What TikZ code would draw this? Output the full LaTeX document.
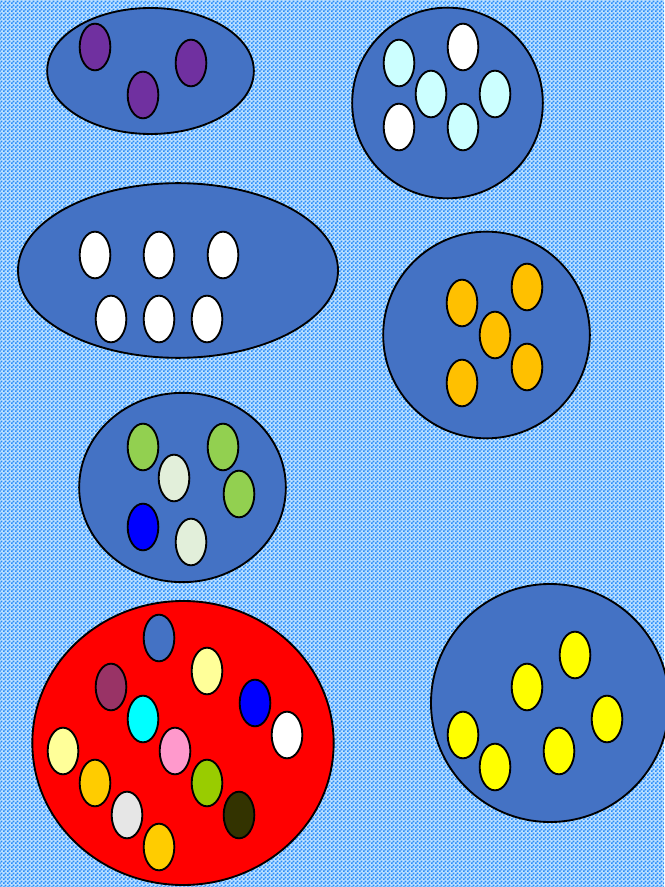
\documentclass[tikz,border=0pt]{standalone}
\usetikzlibrary{shapes.geometric,patterns.meta}
\definecolor{bgblue}{RGB}{40,140,250}
\definecolor{bgpale}{RGB}{190,225,255}
\definecolor{setblue}{RGB}{68,114,196}
\definecolor{setred}{RGB}{255,0,0}
\definecolor{grape}{HTML}{7030A0}
\definecolor{icecyan}{HTML}{CCFFFF}
\definecolor{amber}{HTML}{FFC000}
\definecolor{gold}{HTML}{FFCC00}
\definecolor{leaf}{HTML}{92D050}
\definecolor{mint}{HTML}{E2EFDA}
\definecolor{pureblue}{HTML}{0000FF}
\definecolor{lemon}{HTML}{FFFF00}
\definecolor{cream}{HTML}{FFFF99}
\definecolor{plum}{HTML}{993366}
\definecolor{aqua}{HTML}{00FFFF}
\definecolor{rose}{HTML}{FF99CC}
\definecolor{lime}{HTML}{99CC00}
\definecolor{silver}{HTML}{E6E6E6}
\definecolor{olive}{HTML}{333300}
\tikzdeclarepattern{
  name=checks, type=uncolored,
  bounding box={(0,0) and (3pt,3pt)},
  tile size={(3pt,3pt)},
  code={
    \pgfpathrectangle{\pgfpointorigin}{\pgfpoint{1.6pt}{1.6pt}}
    \pgfpathrectangle{\pgfpoint{1.5pt}{1.5pt}}{\pgfpoint{1.6pt}{1.6pt}}
    \pgfusepath{fill}
  }
}

\begin{document}
\begin{tikzpicture}[
  x=0.75pt, y=-0.75pt,
  set/.style={draw, ellipse, line width=1.4pt, inner sep=0pt, fill=setblue},
  egg/.style={draw, ellipse, line width=1.4pt, inner sep=0pt, minimum width=23pt, minimum height=35pt}
]
% background
\useasboundingbox (0,0) rectangle (664,887);
\fill[bgpale] (0,0) rectangle (664,887);
\fill[pattern=checks, pattern color=bgblue] (0,0) rectangle (664,887);

% sets
\node[set, minimum width=155pt, minimum height=94.5pt] (s1) at (150.5,71) {};
\node[set, minimum width=143pt, minimum height=143pt] (s2) at (447.5,103) {};
\node[set, minimum width=240pt, minimum height=131pt] (s3) at (178,270.5) {};
\node[set, minimum width=155pt, minimum height=155pt] (s4) at (486.5,335) {};
\node[set, minimum width=155pt, minimum height=142pt] (s5) at (182.5,487.5) {};
\node[set, fill=setred, minimum width=226pt, minimum height=213pt] (s6) at (183,743) {};
\node[set, minimum width=178.5pt, minimum height=178.5pt] (s7) at (550,703) {};

% purple set
\node[egg, fill=grape] (a1) at (95,47) {};
\node[egg, fill=grape] (a2) at (191,63) {};
\node[egg, fill=grape] (a3) at (143,95) {};

% white and cyan set
\node[egg, fill=white] (b1) at (463,47) {};
\node[egg, fill=icecyan] (b2) at (399,63) {};
\node[egg, fill=icecyan] (b3) at (431,94) {};
\node[egg, fill=icecyan] (b4) at (495,94) {};
\node[egg, fill=white] (b5) at (399,127) {};
\node[egg, fill=icecyan] (b6) at (463,127) {};

% white set
\node[egg, fill=white] (c1) at (95,255) {};
\node[egg, fill=white] (c2) at (159,255) {};
\node[egg, fill=white] (c3) at (223,255) {};
\node[egg, fill=white] (c4) at (111,319) {};
\node[egg, fill=white] (c5) at (159,319) {};
\node[egg, fill=white] (c6) at (207,319) {};

% orange set
\node[egg, fill=amber] (d1) at (527,287) {};
\node[egg, fill=amber] (d2) at (462,303) {};
\node[egg, fill=amber] (d3) at (495,335) {};
\node[egg, fill=amber] (d4) at (527,367) {};
\node[egg, fill=amber] (d5) at (462,383) {};

% green set
\node[egg, fill=leaf] (e1) at (143,447) {};
\node[egg, fill=leaf] (e2) at (223,447) {};
\node[egg, fill=mint] (e3) at (174,478) {};
\node[egg, fill=leaf] (e4) at (239,494) {};
\node[egg, fill=pureblue] (e5) at (143,527) {};
\node[egg, fill=mint] (e6) at (191,542) {};

% red set
\node[egg, fill=setblue] (f1) at (159,638) {};
\node[egg, fill=cream] (f2) at (207,671) {};
\node[egg, fill=plum] (f3) at (111,687) {};
\node[egg, fill=pureblue] (f4) at (255,703) {};
\node[egg, fill=aqua] (f5) at (143,719) {};
\node[egg, fill=white] (f6) at (287,735) {};
\node[egg, fill=cream] (f7) at (63,751) {};
\node[egg, fill=rose] (f8) at (175,751) {};
\node[egg, fill=gold] (f9) at (95,783) {};
\node[egg, fill=lime] (f10) at (207,783) {};
\node[egg, fill=silver] (f11) at (127,815) {};
\node[egg, fill=olive] (f12) at (239,815) {};
\node[egg, fill=gold] (f13) at (159,847) {};

% yellow set
\node[egg, fill=lemon] (g1) at (575,655) {};
\node[egg, fill=lemon] (g2) at (527,687) {};
\node[egg, fill=lemon] (g3) at (607,719) {};
\node[egg, fill=lemon] (g4) at (463,735) {};
\node[egg, fill=lemon] (g5) at (559,751) {};
\node[egg, fill=lemon] (g6) at (495,767) {};
\end{tikzpicture}
\end{document}
